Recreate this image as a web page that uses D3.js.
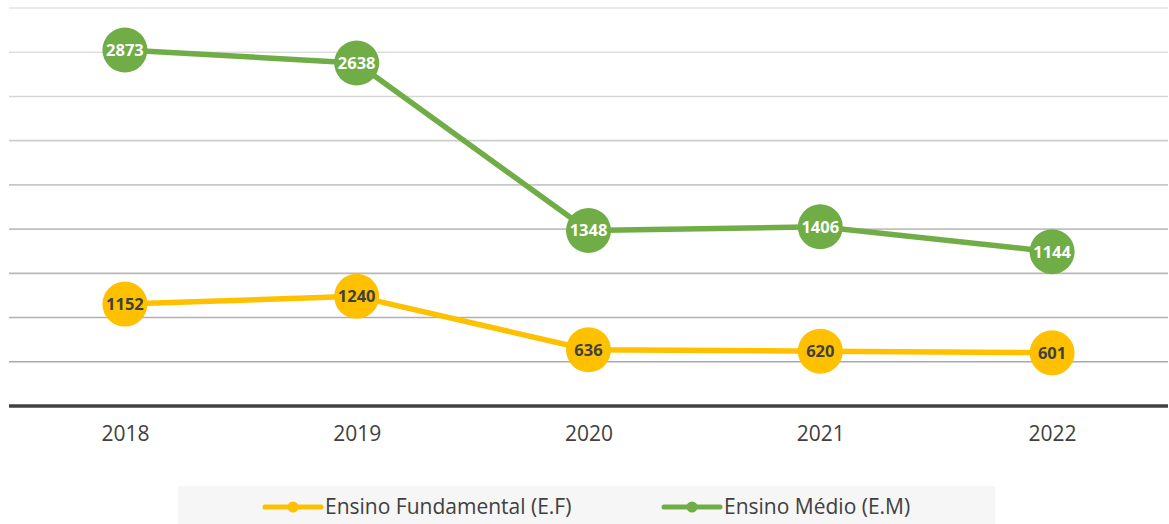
<!DOCTYPE html>
<html>
<head>
<meta charset="utf-8">
<script src="https://cdn.jsdelivr.net/npm/d3@7"></script>
<style>
  body { margin: 0; background: #fff; }
  svg { display: block; font-family: "Open Sans", sans-serif; }
</style>
</head>
<body>
<div id="chart"></div>
<script>
var years = ["2018", "2019", "2020", "2021", "2022"];
var fundamental = [1152, 1240, 636, 620, 601];
var medio = [2873, 2638, 1348, 1406, 1144];
var gridTicks = [0, 500, 1000, 1500, 2000, 2500, 3000, 3500, 4000, 4500];
var seriesNames = ["Ensino Fundamental (E.F)", "Ensino Médio (E.M)"];
var seriesColors = ["#ffc000", "#70ad47"];
var labelColors = ["#404040", "#ffffff"];

var width = 1169, height = 524;

var svg = d3.select("#chart").append("svg")
    .attr("width", width)
    .attr("height", height);

// stacked lines: the green series sits on top of the yellow one
var table = years.map(function(y, i) {
  return { year: y, ef: fundamental[i], em: medio[i] };
});
var stacked = d3.stack().keys(["ef", "em"])(table);

var x = d3.scalePoint().domain(years).range([9, 1168]).padding(0.5);
var y = d3.scaleLinear().domain([0, 4500]).range([406, 8]);

var gridColor = d3.scaleLinear().domain([4500, 500])
    .range(["#e4e4e4", "#a9a9a9"]);

svg.append("g").selectAll("line")
  .data(gridTicks.filter(function(t) { return t > 0; }))
  .enter().append("line")
    .attr("x1", 9).attr("x2", 1168)
    .attr("y1", function(d) { return y(d); })
    .attr("y2", function(d) { return y(d); })
    .attr("stroke", function(d) { return gridColor(d); })
    .attr("stroke-width", 1.6);

var xAxis = svg.append("g")
    .attr("transform", "translate(0," + y(0) + ")")
    .call(d3.axisBottom(x).tickSize(0).tickPadding(20));
xAxis.select(".domain")
    .attr("d", "M9,0H1168")
    .attr("stroke", "#404040")
    .attr("stroke-width", 3.5);
xAxis.selectAll("text")
    .attr("font-family", "Open Sans")
    .attr("font-size", 21)
    .attr("fill", "#404040");

var line = d3.line()
    .x(function(d) { return x(d.data.year); })
    .y(function(d) { return y(d[1]); });

stacked.forEach(function(s, si) {
  var g = svg.append("g");
  g.append("path")
    .datum(s)
    .attr("d", line)
    .attr("fill", "none")
    .attr("stroke", seriesColors[si])
    .attr("stroke-width", 5.5)
    .attr("stroke-linejoin", "round");
  g.selectAll("circle")
    .data(s)
    .enter().append("circle")
      .attr("cx", function(d) { return x(d.data.year); })
      .attr("cy", function(d) { return y(d[1]); })
      .attr("r", 22.5)
      .attr("fill", seriesColors[si]);
  g.selectAll("text")
    .data(s)
    .enter().append("text")
      .attr("x", function(d) { return x(d.data.year); })
      .attr("y", function(d) { return y(d[1]); })
      .attr("dy", "0.36em")
      .attr("text-anchor", "middle")
      .attr("font-size", 16.5)
      .attr("font-weight", "bold")
      .attr("fill", labelColors[si])
      .text(function(d) { return d[1] - d[0]; });
});

// legend
var legend = svg.append("g");
legend.append("rect")
    .attr("x", 178).attr("y", 486)
    .attr("width", 817).attr("height", 38)
    .attr("fill", "#f6f6f6");

var legendX = [265, 664];
seriesNames.forEach(function(name, i) {
  var item = legend.append("g")
      .attr("transform", "translate(" + legendX[i] + ",507)");
  item.append("line")
      .attr("x1", 0).attr("x2", 56)
      .attr("stroke", seriesColors[i])
      .attr("stroke-width", 5)
      .attr("stroke-linecap", "round");
  item.append("circle")
      .attr("cx", 28).attr("r", 5.5)
      .attr("fill", seriesColors[i]);
  item.append("text")
      .attr("x", 60)
      .attr("dy", "0.35em")
      .attr("font-size", 21)
      .attr("fill", "#404040")
      .text(name);
});
</script>
</body>
</html>
